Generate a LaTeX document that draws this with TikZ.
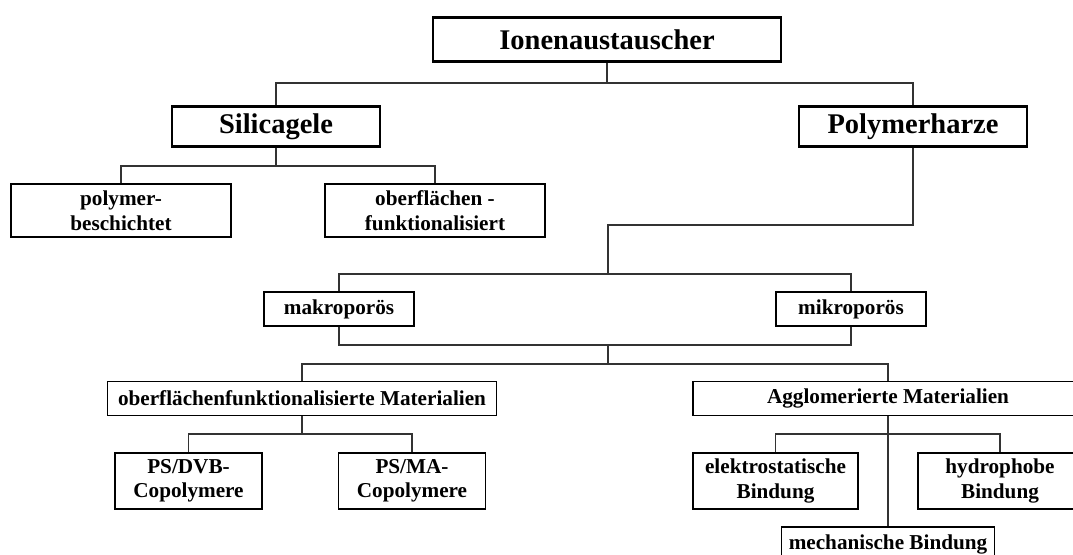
\documentclass[tikz,border=0pt]{standalone}
\usepackage{fontspec}
\setmainfont{Liberation Serif}
\newcommand{\bigtxt}{\fontsize{28.5}{32}\selectfont\bfseries}
\newcommand{\smalltxt}{\fontsize{21.2}{24.5}\selectfont\bfseries}
\tikzset{
  bigbox/.style={draw=black, line width=2.4pt, inner sep=0pt, font=\bigtxt, align=center},
  smallbox/.style={draw=black, line width=1.2pt, inner sep=0pt, font=\smalltxt, align=center},
  conn/.style={line width=1.1pt, draw=black!80}
}
\begin{document}
\begin{tikzpicture}[x=1pt,y=-1pt]
\useasboundingbox (0,0) rectangle (1073,554);
\clip (0,0) rectangle (1073,554);
\fill[white] (0,0) rectangle (1073,554);

% nodes
\node[bigbox, minimum width=348pt, minimum height=44pt] (ion) at (607,39.5) {Ionenaustauscher};
\node[bigbox, minimum width=208pt, minimum height=40pt] (sil) at (276,126.5) {Silicagele};
\node[bigbox, minimum width=228pt, minimum height=40pt] (poly) at (913,126.5) {Polymerharze};

\node[smallbox, minimum width=220pt, minimum height=53pt] (pb) at (121,210.5) {polymer-\\beschichtet};
\node[smallbox, minimum width=220pt, minimum height=53pt] (of) at (435,210.5) {oberflächen -\\funktionalisiert};

\node[smallbox, minimum width=150pt, minimum height=34pt] (makro) at (339,309) {makroporös};
\node[smallbox, minimum width=150pt, minimum height=34pt] (mikro) at (851,309) {mikroporös};

\node[smallbox, minimum width=389pt, minimum height=34pt] (ofm) at (302,398.5) {oberflächenfunktionalisierte Materialien};
\node[smallbox, minimum width=390pt, minimum height=34pt] (agg) at (888,398.5) {Agglomerierte Materialien};

\node[smallbox, minimum width=147pt, minimum height=56pt] (dvb) at (188.5,481) {PS/DVB-\\Copolymere};
\node[smallbox, minimum width=147pt, minimum height=56pt] (ma) at (412,481) {PS/MA-\\Copolymere};
\node[smallbox, minimum width=165pt, minimum height=56pt] (el) at (775.5,481) {elektrostatische\\Bindung};
\node[smallbox, minimum width=164pt, minimum height=56pt] (hy) at (1000,481) {hydrophobe\\Bindung};
\node[smallbox, minimum width=213pt, minimum height=34pt] (mech) at (888,544) {mechanische Bindung};

% junction coordinates
\coordinate (j0) at (607,83);
\coordinate (j5) at (276,166);
\coordinate (j1) at (608,225);
\coordinate (j2) at (608,274);
\coordinate (j3) at (608,345);
\coordinate (j4) at (608,364);
\coordinate (j6) at (302,434);
\coordinate (j7) at (888,434);

% connectors
\draw[conn] (ion.south) -- (j0);
\draw[conn] (sil.north) |- (j0) -| (poly.north);
\draw[conn] (sil.south) -- (j5);
\draw[conn] (pb.north) |- (j5) -| (of.north);
\draw[conn] (poly.south) |- (j1) -- (j2);
\draw[conn] (makro.north) |- (j2) -| (mikro.north);
\draw[conn] (makro.south) |- (j3) -| (mikro.south);
\draw[conn] (j3) -- (j4);
\draw[conn] (ofm.north) |- (j4) -| (agg.north);
\draw[conn] (ofm.south) -- (j6);
\draw[conn] (dvb.north) |- (j6) -| (ma.north);
\draw[conn] (el.north) |- (j7) -| (hy.north);
\draw[conn] (agg.south) -- (mech.north);
\end{tikzpicture}
\end{document}
